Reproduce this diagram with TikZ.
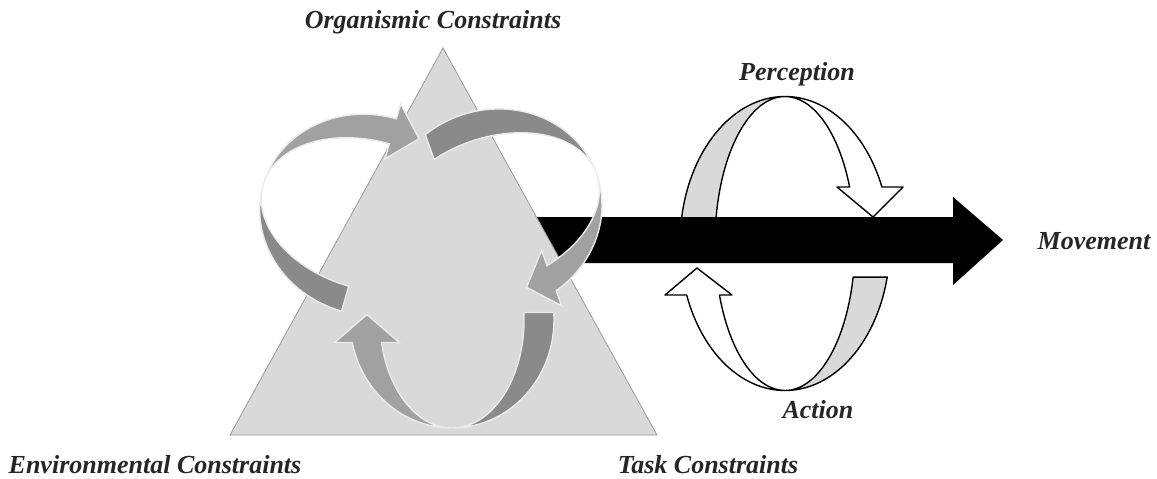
\documentclass[tikz,border=0pt]{standalone}
\usepackage{fontspec}
\setmainfont{Liberation Serif}
\usetikzlibrary{calc}
\begin{document}
\begin{tikzpicture}[x=0.5pt,y=0.5pt]
\tikzset{textlabel/.style={font=\fontsize{13}{16}\selectfont\bfseries\itshape,text=black!85},
  ringband/.style={draw=black,line width=0.7pt,line join=round},
  headarm/.style={draw=black!8,line width=0.7pt,fill=black!37},
  tailarm/.style={draw=black!8,line width=0.7pt,fill=black!46}}
\useasboundingbox (0,0) rectangle (1157,478);
% perception and action
\begin{scope}[shift={(785,234.5)}]
\draw[ringband,fill=black!15] (173:105 and 147) arc[start angle=173,end angle=90,x radius=105,y radius=147] arc[start angle=90,end angle=173,x radius=70,y radius=147] -- cycle;
\draw[ringband,fill=white] (90:105 and 147) arc[start angle=90,end angle=22.6,x radius=105,y radius=147] -- (118,56.5) -- (88,26.5) -- (52,56.5) -- (22.6:70 and 147) arc[start angle=22.6,end angle=90,x radius=70,y radius=147] -- cycle;
\draw[ringband,fill=white] (200.5:105 and 147) -- (-120,-51.5) -- (-88,-24.5) -- (-53,-51.5) -- (200.5:70 and 147) arc[start angle=200.5,end angle=270,x radius=70,y radius=147] arc[start angle=270,end angle=200.5,x radius=105,y radius=147] -- cycle;
\draw[ringband,fill=black!15] (270:105 and 147) arc[start angle=270,end angle=346.8,x radius=105,y radius=147] -- (346.8:70 and 147) arc[start angle=346.8,end angle=270,x radius=70,y radius=147] -- cycle;
\end{scope}
% movement
\fill (500,215) -- (953,215) -- (953,193) -- (1003,238) -- (953,281) -- (953,261) -- (500,261) -- cycle;
% constraints triangle
\draw[draw=black!40,fill=black!15] (230,43) -- (443,430) -- (657,43) -- cycle;
% bottom arrow
\begin{scope}[shift={(452,158)}]
\coordinate (bo) at (192:102 and 108);
\coordinate (bi) at (192:72 and 108);
\coordinate (bm) at ($(bo)!.5!(bi)$);
\draw[tailarm] (270:102 and 108) arc[start angle=270,end angle=364,x radius=102,y radius=108] -- (364:72 and 108) arc[start angle=364,end angle=270,x radius=72,y radius=108] -- cycle;
\draw[headarm] (bo) arc[start angle=192,end angle=270,x radius=102,y radius=108] arc[start angle=270,end angle=192,x radius=72,y radius=108] -- ($(bi)!-.6!(bo)$) -- ($(bm)!1.9!90:(bi)$) -- ($(bo)!-.6!(bi)$) -- cycle;
\end{scope}
% left arrow
\begin{scope}[shift={(369,263)},rotate=-105.9]
\coordinate (lo) at (180:100 and 110);
\coordinate (li) at (180:74 and 110);
\coordinate (lm) at ($(lo)!.5!(li)$);
\draw[tailarm] (270:100 and 110) arc[start angle=270,end angle=360,x radius=100,y radius=110] -- (360:74 and 110) arc[start angle=360,end angle=270,x radius=74,y radius=110] -- cycle;
\draw[headarm] (lo) arc[start angle=180,end angle=270,x radius=100,y radius=110] arc[start angle=270,end angle=180,x radius=74,y radius=110] -- ($(li)!-.6!(lo)$) -- ($(lm)!2.1!90:(li)$) -- ($(lo)!-.6!(li)$) -- cycle;
\end{scope}
% right arrow
\begin{scope}[shift={(493,267)},rotate=110]
\coordinate (ro) at (197:101 and 110);
\coordinate (ri) at (197:73 and 110);
\coordinate (rm) at ($(ro)!.5!(ri)$);
\draw[tailarm] (270:101 and 110) arc[start angle=270,end angle=380,x radius=101,y radius=110] -- (380:73 and 110) arc[start angle=380,end angle=270,x radius=73,y radius=110] -- cycle;
\draw[headarm] (ro) arc[start angle=197,end angle=270,x radius=101,y radius=110] arc[start angle=270,end angle=197,x radius=73,y radius=110] -- ($(ri)!-.6!(ro)$) -- ($(rm)!2!90:(ri)$) -- ($(ro)!-.6!(ri)$) -- cycle;
\end{scope}
% labels
\node[textlabel] (organismic) at (433,456) {Organismic Constraints};
\node[textlabel] (perception) at (797,404) {Perception};
\node[textlabel] (movement) at (1094,237) {Movement};
\node[textlabel] (action) at (818,68) {Action};
\node[textlabel] (environmental) at (155,13) {Environmental Constraints};
\node[textlabel] (task) at (708,13) {Task Constraints};
\end{tikzpicture}
\end{document}
